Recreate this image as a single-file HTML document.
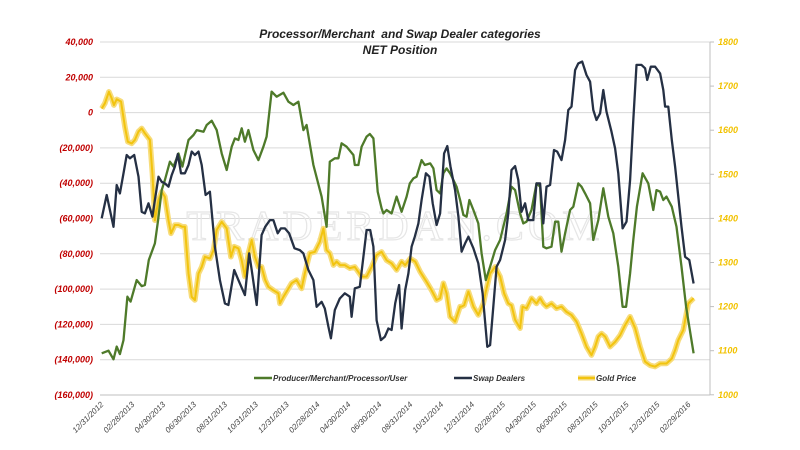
<!DOCTYPE html>
<html><head><meta charset="utf-8"><style>
html,body{margin:0;padding:0;background:#fff;}
svg{display:block;font-family:"Liberation Sans",sans-serif;}
</style></head><body>
<svg id="chart" width="800" height="450" viewBox="0 0 800 450" xmlns="http://www.w3.org/2000/svg">
<rect x="0" y="0" width="800" height="450" fill="#fff"/>
<g id="grid"></g>
<text x="395" y="240" text-anchor="middle" font-family="Liberation Serif,serif" font-size="42" fill="none" stroke="#e6e6e6" stroke-width="1.2" letter-spacing="4">TRADERDAN.COM</text>
<g id="leftAxis"></g>
<g id="rightAxis"></g>
<g id="xAxis"></g>
<g id="series"></g>
<text x="400" y="38" text-anchor="middle" font-size="12" font-weight="bold" font-style="italic" fill="#222" xml:space="preserve">Processor/Merchant  and Swap Dealer categories</text>
<text x="400" y="54" text-anchor="middle" font-size="12" font-weight="bold" font-style="italic" fill="#222">NET Position</text>
<g font-size="8" font-style="italic" font-weight="bold" fill="#333">
 <g><line x1="254" y1="378" x2="272" y2="378" stroke="#4e7a2a" stroke-width="2.5"/><text x="273" y="381">Producer/Merchant/Processor/User</text></g>
 <g><line x1="454" y1="378" x2="472" y2="378" stroke="#253044" stroke-width="2.5"/><text x="473" y="381">Swap Dealers</text></g>
 <g><line x1="578" y1="378" x2="595" y2="378" stroke="#f5d874" stroke-width="5"/><line x1="578" y1="378" x2="595" y2="378" stroke="#f2c40f" stroke-width="2"/><text x="596" y="381">Gold Price</text></g>
</g>
</svg>
<script>
// Data (weeks since 12/31/2012; positions in thousands of contracts; gold in USD)
const xTickLabels = ["12/31/2012","02/28/2013","04/30/2013","06/30/2013","08/31/2013","10/31/2013","12/31/2013","02/28/2014","04/30/2014","06/30/2014","08/31/2014","10/31/2014","12/31/2014","02/28/2015","04/30/2015","06/30/2015","08/31/2015","10/31/2015","12/31/2015","02/29/2016"];
const leftTicks = [40,20,0,-20,-40,-60,-80,-100,-120,-140,-160];
const rightTicks = [1800,1700,1600,1500,1400,1300,1200,1100,1000];
const greenWeeks = [0.2,2.1,3.5,4.4,5.3,6.3,7.4,8.3,10,11.4,12.3,13.4,15.1,16,17,17.9,19.3,20.3,21.7,22.8,24.5,25.9,26.8,28.7,29.6,31,32.4,33.8,35.2,36.6,37.5,38.5,39.4,40.3,41.3,42.7,44.1,45.5,46.4,47.8,49.2,51.1,52.5,53.9,55.3,56.7,57.6,59.5,61.8,63.2,64.1,65.5,66.5,67.4,68.8,70.7,71.1,72.1,73,74.4,75.3,76.3,77.5,78.6,79.1,80,81.4,82.8,84.2,85.6,86.5,87.5,88.4,89.8,90.7,92.2,93.1,94,95,95.9,96.8,97.8,98.7,99.6,100.6,101.5,102.4,103.2,104.3,105.7,106.6,107.8,109,110.4,111.8,113.6,115,116,117.4,118.3,119.2,120.6,122,123,123.9,124.8,126.2,127.2,128.1,129,130,131.4,132.3,133.7,134.6,135.6,137,137.9,139.3,140.7,142.1,143.5,144.9,146.1,147.1,148.2,149.1,150.1,151.7,153.3,154.7,155.6,156.6,157.5,158.4,159.9,161.2,162.6,163.9,164.8,166];
const greenValues = [-136.4,-134.9,-139.8,-132.6,-136.8,-128.9,-104.3,-107.1,-94.9,-98.3,-97.7,-83.5,-74.1,-60.9,-43.9,-38.2,-27.8,-30.6,-23.1,-30.6,-15.5,-12.7,-9.9,-10.8,-7,-4.6,-9.9,-23.1,-32.5,-19.3,-14.6,-15.5,-8.9,-16.5,-9.9,-21.2,-26.9,-19.3,-13.6,11.9,9,11.3,6.2,4.3,6.2,-9.9,-7,-29.7,-47.6,-64.7,-27.8,-25.9,-25.9,-17.4,-19.3,-24,-29.7,-29.7,-19.3,-13.6,-12.1,-14.6,-44.8,-54.3,-57.1,-55.2,-57.1,-47.6,-56.2,-47.6,-40.1,-37.3,-36.3,-26.9,-29.7,-28.8,-31.6,-43.9,-45.8,-34.4,-31.6,-34.4,-38.2,-42,-49.5,-58,-59,-49.5,-55.2,-62.8,-79.8,-94.9,-87.3,-77.9,-72.2,-57.1,-42,-43.9,-57.1,-62.8,-61.8,-55.2,-40.1,-42,-76,-76.9,-76,-61.8,-61.8,-78.8,-68.4,-55.2,-53.3,-40.1,-42,-45.8,-51.4,-72.2,-60.9,-42.9,-59,-68.4,-87.3,-110,-110,-91.1,-72.2,-53.3,-34.4,-40.1,-55.2,-43.9,-44.8,-49.5,-47.6,-53.3,-64.7,-87.3,-110,-121.3,-136.4];
const swapWeeks = [0.2,1.6,3.5,4.4,5.3,6.3,7.2,8.1,9.3,10.5,11.4,12.3,13.3,14.4,15.1,16.1,17,17.9,18.9,19.8,20.7,21.5,22.4,23.5,24.5,25.4,26.3,27.3,28.2,29.3,30.5,31.9,33.3,34.7,35.7,37.3,38.5,40.3,41.5,42.2,43.6,45,46,47.3,48.3,49.5,50.4,51.5,52.7,54.2,55.7,56.7,58.1,59.5,60.4,61.8,62.7,63.7,64.4,65.5,66.9,68.3,69.7,70.2,71.1,72.5,73.5,74.4,75.4,76.3,77.2,78.4,79.5,80.5,81.4,82.4,83.5,84.2,85.2,86.1,87,87.9,88.9,89.8,91,92,92.9,94,95,96.1,97,97.9,99.2,100.1,101,102,102.9,104.3,105.7,106.9,108.2,109,109.9,110.8,111.8,113.2,114.1,115,116,116.9,117.8,118.8,119.7,121.1,122,123,123.9,124.8,125.8,126.9,127.8,129,130,130.9,131.8,132.8,133.7,134.8,136,137,137.9,138.8,139.8,140.7,141.6,143,144,144.9,146.1,147.2,148.2,149.1,150,151.4,152.4,153,154,155.2,156.6,157.5,158,158.9,159.9,160.8,161.7,162.6,163.6,164.8,166];
const swapValues = [-59.9,-46.7,-64.7,-41,-45.8,-34.4,-24,-25.9,-24,-36.3,-56.2,-57.1,-51.4,-59,-49.5,-36.3,-39.2,-40.1,-42,-35.4,-30.6,-23.5,-34.4,-34.4,-29.7,-22.1,-24,-22.1,-29.7,-46.7,-44.8,-76,-94.9,-108.1,-109,-89.2,-94.9,-103.4,-79.8,-89.2,-109,-69.4,-64.7,-60.9,-60.9,-68.4,-65.6,-65.6,-68.4,-76.9,-77.9,-79.8,-89.2,-94.9,-110,-107.2,-111,-121.3,-127.9,-111.9,-105.3,-102.4,-104.3,-115.7,-99.6,-98.7,-81.7,-66.5,-66.5,-76,-117.6,-128.9,-127,-122.3,-123.2,-108.1,-97.7,-122.3,-100.5,-91.1,-76,-70.3,-62.8,-49.5,-34.4,-36.3,-51.4,-63.7,-57.1,-23.1,-19,-30.6,-43.9,-59,-78.8,-74.1,-70.3,-76.9,-85.4,-102.4,-132.7,-131.7,-110,-87.3,-83.5,-72.2,-57.1,-32.5,-30.3,-38.2,-56.2,-51.4,-60.9,-60.9,-40.1,-40.1,-62.8,-42,-41,-21.2,-22.1,-26.9,-15.5,1.5,3.4,24.1,27.9,28.9,21.3,17.5,1.5,-4.2,-0.4,12.8,0.5,-10.8,-20.3,-34.4,-65.6,-61.8,-38.2,-4.2,27,27,25.1,18.5,26,26,22.2,12.8,3.4,3.4,-15.5,-30.6,-47.6,-64.7,-81.7,-83.5,-96.8];
const goldWeeks = [0.2,1.1,2.2,3,3.6,4.4,5.6,6.7,7.5,8.6,9.5,10.5,11.4,12.3,13.7,14.4,15.1,16.1,17,17.9,18.9,19.6,20.7,21.7,22.8,23.5,24.5,25.4,26.3,27.3,28.2,29.1,30.5,31.5,32.4,33.8,35.2,36.4,37.3,38.5,39.4,40.3,41.3,42.2,43.1,44.1,45,46,46.9,48.3,49.7,50.1,51.1,52,53.4,54.8,56.2,57.1,58.5,59.9,61.3,62.3,63.2,64.1,65.1,66,67,68.3,69.7,71.1,73,74.4,75.8,77.2,78.6,80,81.4,82.8,84.2,85.2,86.6,88,89.4,91.2,92.6,94,95,95.9,96.8,97.8,99.2,100.6,101,101.7,102.9,104.3,105.7,107.1,107.8,109,110.4,111.8,112.9,114.1,115,116,117.4,118.1,119.2,120.6,122,123,123.9,124.8,126.2,127.6,129,130.4,131.8,133.2,134.6,136,137.4,138.4,139.3,140.2,141.2,142.6,144,145.4,146.8,148.2,149.6,151,152.4,153.8,155.2,156.6,158.4,159.9,160.8,161.7,163.1,164.5,166];
const goldValues = [1649,1661,1687,1672,1657,1670,1665,1608,1574,1570,1578,1597,1604,1593,1578,1502,1396,1442,1460,1449,1396,1366,1385,1385,1381,1381,1275,1222,1215,1275,1290,1313,1309,1328,1374,1392,1377,1313,1336,1332,1305,1268,1321,1351,1313,1290,1290,1260,1245,1237,1230,1207,1222,1234,1253,1260,1241,1275,1321,1324,1347,1377,1328,1321,1294,1302,1294,1294,1287,1290,1268,1268,1290,1317,1324,1305,1298,1283,1302,1294,1309,1302,1279,1256,1237,1215,1219,1253,1230,1177,1166,1200,1200,1203,1234,1200,1181,1207,1234,1275,1290,1268,1230,1207,1203,1170,1151,1200,1196,1219,1207,1219,1207,1200,1207,1196,1200,1188,1181,1166,1139,1109,1090,1109,1132,1139,1132,1109,1120,1135,1158,1177,1151,1109,1075,1067,1064,1071,1071,1082,1101,1124,1147,1207,1219,1241,1260];

const NS = "http://www.w3.org/2000/svg";
const X0 = 101, XW = 3.57;
const xScale = w => X0 + w * XW;
const yLeft = v => 42 + (40 - v) / 20 * 35.3;
const yRight = g => 42 + (1800 - g) / 100 * 44.1;
function mk(tag, attrs, parent){ const e=document.createElementNS(NS,tag); for(const k in attrs) e.setAttribute(k,attrs[k]); parent.appendChild(e); return e; }

const grid = document.getElementById('grid');
leftTicks.forEach(t => {
  const l = mk('line',{x1:100,x2:710,y1:yLeft(t),y2:yLeft(t),stroke:t===-160?'#bfbfbf':'#d9d9d9','stroke-width':1},grid);
  
  
});
const la = document.getElementById('leftAxis');
leftTicks.forEach(t => {
  const s = t===0 ? '0' : (t<0 ? '('+(-t)+',000)' : t+',000');
  const tx = mk('text',{x:93,y:yLeft(t)+3,'text-anchor':'end','font-size':9,'font-weight':'bold','font-style':'italic',fill:'#c00000'},la);
  tx.textContent = s;
  
  
});
const ra = document.getElementById('rightAxis');
mk('line',{x1:710,x2:710,y1:42,y2:395,stroke:'#bfbfbf','stroke-width':1},ra);
rightTicks.forEach(t => {
  mk('line',{x1:710,x2:714,y1:yRight(t),y2:yRight(t),stroke:'#bfbfbf'},ra);
  const tx = mk('text',{x:718,y:yRight(t)+3,'font-size':9,'font-weight':'bold','font-style':'italic',fill:'#f2c200'},ra);
  tx.textContent = t;
  
  
});
const xa = document.getElementById('xAxis');
xTickLabels.forEach((lab,i) => {
  const x = 104 + i * 30.9;
  const tx = mk('text',{x:x,y:405,'text-anchor':'end','font-size':8,'font-style':'italic',fill:'#444',transform:'rotate(-45 '+x+' 405)'},xa);
  tx.textContent = lab;
  
  
});

const sg = document.getElementById('series');
function path(ws, vs, yf){ return ws.map((w,i)=>(i?'L':'M')+xScale(w).toFixed(1)+' '+yf(vs[i]).toFixed(1)).join(' '); }
const gd = path(goldWeeks, goldValues, yRight);
const g1 = mk('path',{d:gd,fill:'none',stroke:'#f7dc7a','stroke-width':5.5,'stroke-linejoin':'round'},sg);


const g2 = mk('path',{d:gd,fill:'none',stroke:'#f2c40f','stroke-width':2,'stroke-linejoin':'round'},sg);


const gr = mk('path',{d:path(greenWeeks, greenValues, yLeft),fill:'none',stroke:'#4e7a2a','stroke-width':2.3,'stroke-linejoin':'round'},sg);


const sw = mk('path',{d:path(swapWeeks, swapValues, yLeft),fill:'none',stroke:'#253044','stroke-width':2.3,'stroke-linejoin':'round'},sg);


</script>
</body></html>
